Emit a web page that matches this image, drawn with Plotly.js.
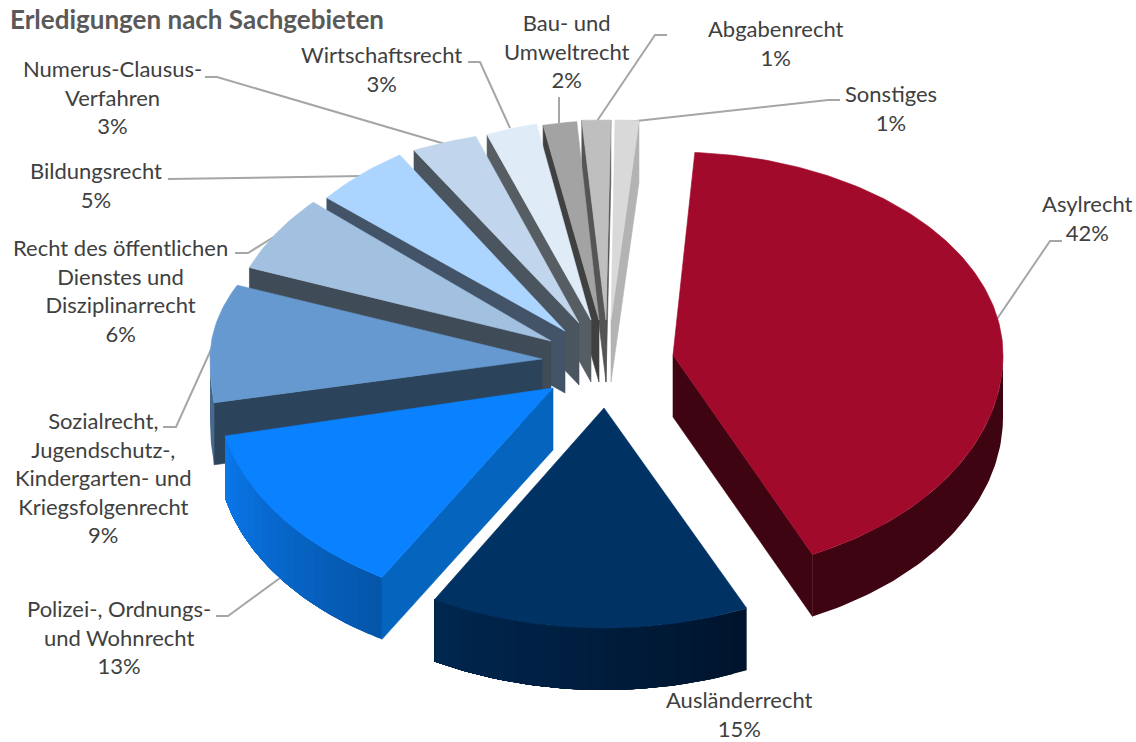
<!DOCTYPE html>
<html><head><meta charset="utf-8">
<script src="https://cdn.plot.ly/plotly-3.0.1.min.js"></script>
<style>html,body{margin:0;padding:0;background:#fff}#chart{width:1136px;height:742px}</style>
</head><body><div id="chart"></div>
<script>
// ---- data (percent of Erledigungen) ----
const categories = ["Asylrecht","Ausländerrecht","Polizei-, Ordnungs-<br>und Wohnrecht",
  "Sozialrecht,<br>Jugendschutz-,<br>Kindergarten- und<br>Kriegsfolgenrecht",
  "Recht des öffentlichen<br>Dienstes und<br>Disziplinarrecht","Bildungsrecht",
  "Numerus-Clausus-<br>Verfahren","Wirtschaftsrecht","Bau- und<br>Umweltrecht","Abgabenrecht","Sonstiges"];
const values = [42,15,13,9,6,5,3,3,2,1,1];

// ---- styling: colours per slice ----
const topColors  = ["#A10A2A","#003264","#0A82FF","#6699CF","#A2C1E0","#ABD5FF","#C1D6EC","#DFECF8","#A3A3A3","#BFBFBF","#D9D9D9"];
const cutColors  = ["#3F0411","#001F3F","#0564BE","#2C435C","#3F4B57","#435468","#4B5560","#575E63","#404040","#555555","#B3B3B3"];
const wallStart  = ["#3F0411","#00142C","#0555A8","#46698F","#3F4B57","#435468","#4B5560","#575E63","#404040","#555555","#B3B3B3"];
const wallEnd    = ["#3F0411","#00274F","#0A78EC","#46698F","#3F4B57","#435468","#4B5560","#575E63","#404040","#555555","#B3B3B3"];

// ---- styling: pie geometry on the pixel-like axes ----
const apexX = [673,604,553,542,551,565,579,591,599,606,611];
const apexY = [355,408,388,359,341,331,323,320,320,320,320];
const radX  = [330,344,336,332,323,310,355,275,271,462,382];
const radYTop = [203,220,220,186,205,208,195,200,199,200,200];
const radYBot = [220,220,220,280,205,208,195,200,199,200,200];
const startDeg = [3.8,155.5,210.6,261,291,309.8,332.3,337.8,348.1,357,360.6];
const depth = 62;
const drawOrder = [0,10,9,8,7,6,5,4,3,2,1];

// ---- styling: labels and leader lines ----
const labelX = [1087,739,119,103,120,96,112,381,567,776,891];
const labelY = [218,714,637,477,290,185,97,69,51,43,108];
const leaderX = [[1062,1050,995],[],[216,228,280],[163,176,214],[235,248,277],[168,362],[205,217,445],[468,480,510],[559,559],[667,655,597],[840,828,627]];
const leaderY = [[241,241,322],[],[616,616,578],[427,427,343],[253,253,235],[179,176],[77,77,144],[62,62,128],[97,123],[35,35,121],[100,100,122]];
const labelFont = "Lato, 'Open Sans', sans-serif";

function hex(c){return [1,3,5].map(i=>parseInt(c.substr(i,2),16));}
function mix(a,b,f){const A=hex(a),B=hex(b);return "rgb("+A.map((v,i)=>Math.round(v+(B[i]-v)*f)).join(",")+")";}
const rad = d=>d*Math.PI/180;

const traces = [];
function poly(xs,ys,color,name,lw){
  traces.push({type:"scatter",mode:"lines",x:xs.concat(xs[0]),y:ys.concat(ys[0]),fill:"toself",fillcolor:color,
    line:{color:color,width:lw===undefined?0.6:lw},hoverinfo:"text",text:name,showlegend:false});
}
// leader lines
leaderX.forEach((lx,i)=>{ if(!lx.length) return;
  traces.push({type:"scatter",mode:"lines",x:lx,y:leaderY[i],line:{color:"#A6A6A6",width:2},hoverinfo:"skip",showlegend:false});
});
// slices, back to front
drawOrder.forEach(i=>{
  const span = values[i]*3.6, t0 = startDeg[i], t1 = t0+span, name = categories[i].replace(/<br>/g," ");
  const px = t => apexX[i]+radX[i]*Math.sin(rad(t));
  const py = t => { const c=Math.cos(rad(t)); return apexY[i]-(c>0?radYTop[i]:radYBot[i])*c; };
  // cut walls
  if(px(t0)<apexX[i]) poly([apexX[i],px(t0),px(t0),apexX[i]],[apexY[i],py(t0),py(t0)+depth,apexY[i]+depth],cutColors[i],name);
  if(px(t1)>apexX[i]) poly([apexX[i],px(t1),px(t1),apexX[i]],[apexY[i],py(t1),py(t1)+depth,apexY[i]+depth],cutColors[i],name);
  // outer wall: overlapping strips where the rim faces the viewer
  const a = Math.max(t0,90), b = Math.min(t1,270);
  if(b>a){
    const flat = wallStart[i]===wallEnd[i];
    const n = flat?1:Math.ceil((b-a)/2.5);
    for(let k=0;k<n;k++){
      const s=a+(b-a)*k/n, e=b;   // each strip runs to the far end; the next one paints over it
      const xs=[],ys=[],steps=Math.max(2,Math.ceil(e-s));
      for(let j=0;j<=steps;j++){const t=s+(e-s)*j/steps; xs.push(px(t)); ys.push(py(t));}
      for(let j=steps;j>=0;j--){const t=s+(e-s)*j/steps; xs.push(px(t)); ys.push(py(t)+depth);}
      poly(xs,ys,flat?wallStart[i]:mix(wallStart[i],wallEnd[i],(k+.5)/n),name,0);
    }
  }
  // top face
  const xs=[apexX[i]], ys=[apexY[i]], m=Math.max(4,Math.ceil(span));
  for(let k=0;k<=m;k++){const t=t0+span*k/m; xs.push(px(t)); ys.push(py(t));}
  poly(xs,ys,topColors[i],name);
});

const annotations = categories.map((c,i)=>({
  text:c+"<br>"+values[i]+"%",x:labelX[i],y:labelY[i],xref:"x",yref:"y",xanchor:"center",yanchor:"middle",
  showarrow:false,align:"center",font:{family:labelFont,size:22,color:"#404040"}
}));

const layout = {
  width:1136,height:742,margin:{l:0,r:0,t:0,b:0,pad:0},paper_bgcolor:"#fff",plot_bgcolor:"#fff",showlegend:false,
  title:{text:"<b>Erledigungen nach Sachgebieten</b>",x:10/1136,xref:"paper",xanchor:"left",y:1-20/742,yref:"paper",yanchor:"middle",
    font:{family:labelFont,size:26,color:"#595959"}},
  xaxis:{range:[0,1136],visible:false,fixedrange:true},
  yaxis:{range:[742,0],visible:false,fixedrange:true},
  annotations
};
Plotly.newPlot("chart",traces,layout,{displayModeBar:false,staticPlot:true});
</script></body></html>
